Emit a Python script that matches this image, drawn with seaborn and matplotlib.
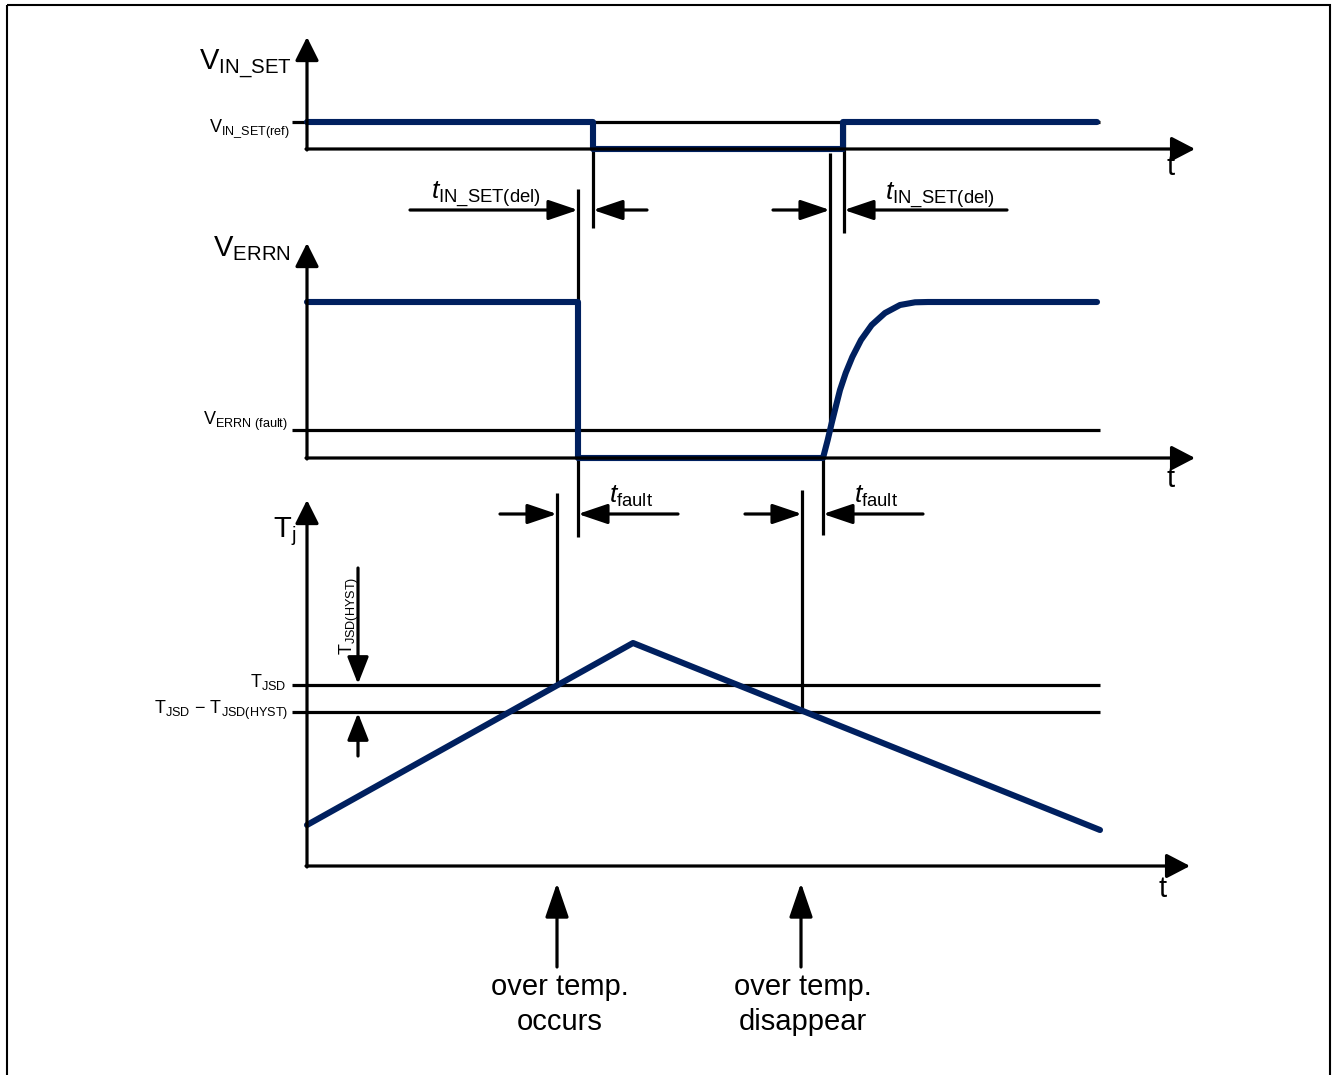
import numpy as np
import pandas as pd
import matplotlib
matplotlib.use("Agg")
import matplotlib.pyplot as plt
import seaborn as sns
from matplotlib.patches import Rectangle

# =====================================================================
# Waveform data (diagram units = pixels of the 1332x1075 sheet, y down)
# =====================================================================
# V_IN_SET : high -> low -> high
vin_t = [307, 593, 593, 843, 843, 1097]
vin_v = [122, 122, 149, 149, 122, 122]

# V_ERRN : high, drops at fault, recovers with a rounded rise
verrn_t = [307, 578, 578, 823, 827.7, 831.7, 835.7, 840, 845.7, 852.3, 861,
           871.7, 885, 900, 915, 928, 1097]
verrn_v = [302, 302, 458, 458, 440, 423, 407, 390, 373, 357, 340,
           325, 313, 305, 302.3, 302, 302]

# T_j : ramp up, peak, ramp down
tj_t = [307, 633, 1100]
tj_v = [825, 643, 830]

# reference levels per panel
ref_levels = [122, 430, 685, 712]
ref_x = (292, 1100)

# axis origins (x0, y0) and arrow tips
axis_origin = [(307, 149), (307, 458), (307, 866)]
axis_ytip = [37, 243, 500]
axis_xtip = [1195, 1195, 1190]
t_label_pos = [(1171, 175), (1171, 487), (1163, 897)]

# marker lines (x, y_top, y_bottom)
marker_x = [593, 578, 830, 844, 823, 557, 802]
marker_top = [149, 189, 153, 122, 458, 493, 490]
marker_bot = [228, 537, 430, 233, 535, 685, 712]

# dimension arrows (tail_x, tip_x, y)
dim_tail = [410, 647, 773, 1007, 500, 678, 745, 923]
dim_tip = [578, 593, 830, 844, 557, 578, 802, 823]
dim_y = [210, 210, 210, 210, 514, 514, 514, 514]

BLUE = "#00205f"
LW = 2.3

sns.set_theme(style="white")
plt.rcParams["font.family"] = ["Liberation Sans", "DejaVu Sans"]
plt.rcParams["text.color"] = "black"
plt.rcParams["mathtext.fontset"] = "custom"
plt.rcParams["mathtext.rm"] = "Liberation Sans"
plt.rcParams["mathtext.it"] = "Liberation Sans:italic"
plt.rcParams["mathtext.bf"] = "Liberation Sans:bold"

fig = plt.figure(figsize=(13.32, 10.75), dpi=100)
ax = fig.add_axes([0, 0, 1, 1])

# frame around the sheet
ax.add_patch(Rectangle((7, 5), 1323, 1090, fill=False, lw=1.5, ec="black", clip_on=False))


def arrow(x0, y0, x1, y1, hl, hw, lw=LW):
    ax.annotate("", xy=(x1, y1), xytext=(x0, y0),
                arrowprops=dict(arrowstyle=f"-|>,head_length={hl},head_width={hw}",
                                lw=lw, color="black", mutation_scale=1,
                                shrinkA=0, shrinkB=0))


# waveforms
waves = pd.concat([
    pd.DataFrame({"t": vin_t, "v": vin_v, "sig": "VIN_SET"}),
    pd.DataFrame({"t": verrn_t, "v": verrn_v, "sig": "VERRN"}),
    pd.DataFrame({"t": tj_t, "v": tj_v, "sig": "Tj"}),
])

# reference levels and marker lines under the waveforms
ax.hlines(ref_levels, ref_x[0], ref_x[1], color="black", lw=LW)
ax.vlines(marker_x, marker_top, marker_bot, color="black", lw=LW)

for name, grp in waves.groupby("sig", sort=False):
    sns.lineplot(data=grp, x="t", y="v", ax=ax, sort=False, estimator=None,
                 color=BLUE, lw=4.4, solid_capstyle="round", solid_joinstyle="round")

ax.set_xlim(0, 1332)
ax.set_ylim(1075, 0)
ax.axis("off")

# axes of each panel
for (x0, y0), yt, xt in zip(axis_origin, axis_ytip, axis_xtip):
    arrow(x0, y0 + 1, x0, yt, 14.4, 7.2)
    arrow(x0 - 1, y0, xt, y0, 14.4, 7.5)
for (tx, ty) in t_label_pos:
    ax.text(tx, ty, "t", fontsize=21, ha="center", va="baseline")

# dimension arrows
for x0, x1, y in zip(dim_tail, dim_tip, dim_y):
    arrow(x0, y, x1, y, 18, 6.1)

# hysteresis arrows
arrow(358, 568, 358, 684, 16.5, 6.5)
arrow(358, 756, 358, 713, 16.5, 6.5)

# event arrows under the time axis
arrow(557, 967, 557, 883, 21, 7.2)
arrow(801, 967, 801, 883, 21, 7.2)

# signal labels
ax.text(292, 70, r"$\mathrm{V}_{\mathrm{IN\_SET}}$", fontsize=21, ha="right", va="baseline")
ax.text(290, 132, r"$\mathrm{V}_{\mathrm{IN\_SET(ref)}}$", fontsize=13, ha="right", va="baseline")
ax.text(291, 256, r"$\mathrm{V}_{\mathrm{ERRN}}$", fontsize=21, ha="right", va="baseline")
ax.text(288, 425, r"$\mathrm{V}_{\mathrm{ERRN\ (fault)}}$", fontsize=13, ha="right", va="baseline")
ax.text(273, 537, r"$\mathrm{T}_{\mathrm{j}}$", fontsize=21, ha="left", va="baseline")
ax.text(286, 687, r"$\mathrm{T}_{\mathrm{JSD}}$", fontsize=13, ha="right", va="baseline")
ax.text(288, 714, r"$\mathrm{T}_{\mathrm{JSD}}\ \mathrm{-}\ \mathrm{T}_{\mathrm{JSD(HYST)}}$",
        fontsize=13, ha="right", va="baseline")
ax.text(349, 616, r"$\mathrm{T}_{\mathrm{JSD(HYST)}}$", fontsize=13, rotation=90,
        ha="center", va="center")

# timing labels
ax.text(431, 200, r"$\mathit{t}_{\mathrm{IN\_SET(del)}}$", fontsize=19, ha="left", va="baseline")
ax.text(885, 201, r"$\mathit{t}_{\mathrm{IN\_SET(del)}}$", fontsize=19, ha="left", va="baseline")
ax.text(609, 503, r"$\mathit{t}_{\mathrm{fault}}$", fontsize=19, ha="left", va="baseline")
ax.text(854, 503, r"$\mathit{t}_{\mathrm{fault}}$", fontsize=19, ha="left", va="baseline")

# event notes
ax.text(560, 995, "over temp.", fontsize=21, ha="center", va="baseline")
ax.text(560, 1030, "occurs", fontsize=21, ha="center", va="baseline")
ax.text(803, 995, "over temp.", fontsize=21, ha="center", va="baseline")
ax.text(803, 1030, "disappear", fontsize=21, ha="center", va="baseline")

fig.savefig("out.png", dpi=100)
